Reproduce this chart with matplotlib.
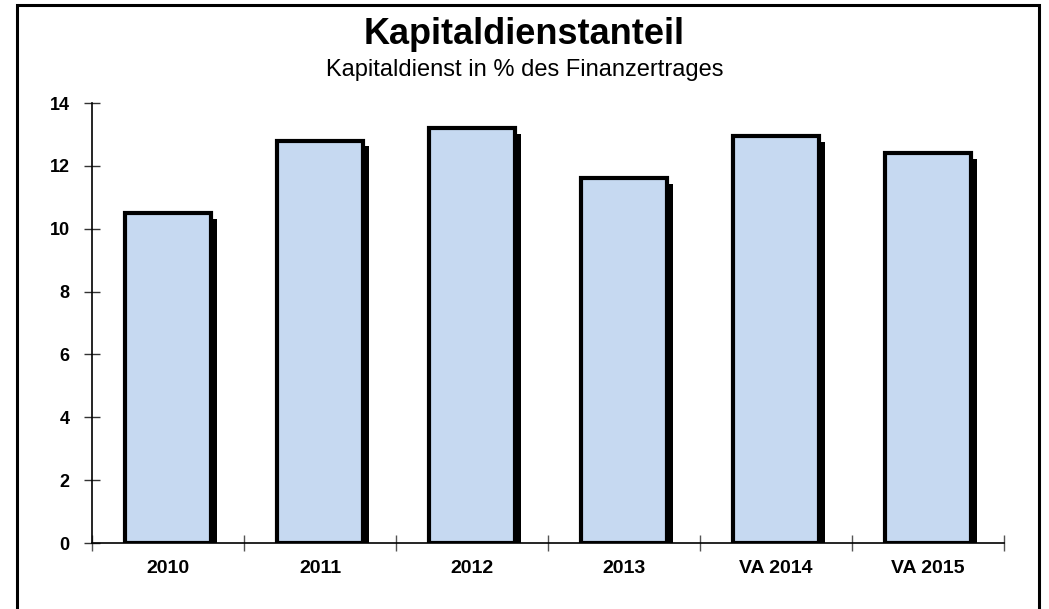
import matplotlib
matplotlib.use("Agg")
import matplotlib.pyplot as plt
import matplotlib.patheffects as pe
from matplotlib.patches import Rectangle

categories = ["2010", "2011", "2012", "2013", "VA 2014", "VA 2015"]
values = [10.5, 12.8, 13.2, 11.6, 12.95, 12.4]
yticks = [0, 2, 4, 6, 8, 10, 12, 14]

plt.rcParams['font.family'] = ['Liberation Sans', 'DejaVu Sans']

fig = plt.figure(figsize=(10.49, 6.09), dpi=100)
ax = fig.add_axes([92/1049, 1-543/609, (1004-92)/1049, (543-103)/609])

x = list(range(len(categories)))
bars = ax.bar(x, values, width=0.57, color='#c6d9f1', edgecolor='black',
              linewidth=3.0, zorder=3)
for b in bars:
    b.set_path_effects([pe.SimplePatchShadow(offset=(4, -4), shadow_rgbFace='black', alpha=1.0),
                        pe.Normal()])

ax.set_xlim(-0.5, len(categories) - 0.5)
ax.set_ylim(0, 14)
ax.set_yticks(yticks)
ax.set_yticklabels([str(v) for v in yticks], fontsize=13, fontweight='bold')
ax.set_xticks(x)
ax.set_xticklabels(categories, fontsize=14, fontweight='bold')
ax.tick_params(axis='x', length=0, pad=12)
ax.set_xticks([i - 0.5 for i in range(len(categories) + 1)], minor=True)
ax.tick_params(axis='x', which='minor', direction='inout', length=12, width=1, color='#555555')
ax.tick_params(axis='y', direction='inout', length=12, width=1, color='#333333', pad=10)
for s in ['top', 'right']:
    ax.spines[s].set_visible(False)
for s in ['left', 'bottom']:
    ax.spines[s].set_linewidth(1.2)
    ax.spines[s].set_zorder(4)

fig.text(0.5, 1-34/609, "Kapitaldienstanteil", ha='center', va='center',
         fontsize=26, fontweight='bold')
fig.text(0.5, 1-70/609, "Kapitaldienst in % des Finanzertrages", ha='center', va='center',
         fontsize=17)

fig.patches.append(Rectangle((17/1049, -0.05), (1039-17)/1049, 1.05 - 5/609,
                             transform=fig.transFigure, fill=False, edgecolor='black',
                             linewidth=2.2))

fig.savefig("out.png", dpi=100)
